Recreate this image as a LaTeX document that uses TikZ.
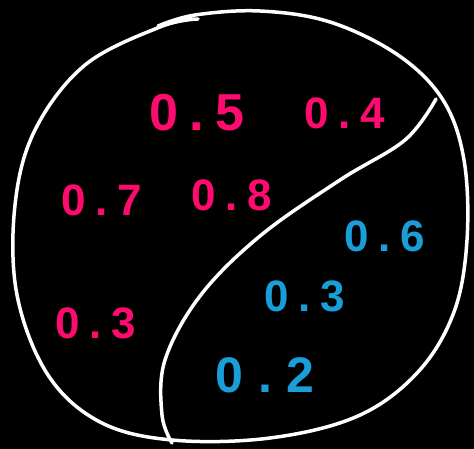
\documentclass[tikz,border=0pt]{standalone}
\usepackage{fontspec}
\setmainfont{Liberation Sans}
\usepackage{xcolor}
\definecolor{inkpink}{HTML}{FF0A6E}
\definecolor{inkblue}{HTML}{1A9ED8}
\newcommand{\hnum}[2]{#1\hspace{0.22em}.\hspace{0.22em}#2}

\begin{document}
\begin{tikzpicture}[
    x=1pt, y=-1pt,
    every node/.style={font=\fontsize{44}{44}\selectfont\bfseries},
    stroke/.style={draw=white, line width=3.5pt, line cap=round, line join=round},
    pinkval/.style={text=inkpink, inner sep=0pt},
    blueval/.style={text=inkblue, inner sep=0pt},
]
% background
\fill[black] (0,0) rectangle (474,449);
\useasboundingbox (0,0) rectangle (474,449);

% outer circle, hand drawn
\draw[stroke] plot[smooth, tension=0.6] coordinates {
    (158,26) (195,15) (260,11) (330,22) (398,55) (443,100) (464,160)
    (467,240) (454,312) (418,372) (358,416) (270,438) (172,440)
    (100,422) (48,375) (17,295) (15,205) (35,130) (85,65) (160,27) (198,19)};

% dividing curve
\draw[stroke] plot[smooth, tension=0.6] coordinates {
    (436,99) (405,140) (340,180) (260,236) (200,296) (165,360)
    (162,415) (172,443)};

% left side values
\node[pinkval, font=\fontsize{52}{52}\selectfont\bfseries] (n05) at (197,113) {\hnum{0}{5}};
\node[pinkval] (n04) at (345,113) {\hnum{0}{4}};
\node[pinkval] (n07) at (102,200) {\hnum{0}{7}};
\node[pinkval] (n08) at (232,195) {\hnum{0}{8}};
\node[pinkval] (n03a) at (96,323) {\hnum{0}{3}};

% right side values
\node[blueval] (n06) at (385,236) {\hnum{0}{6}};
\node[blueval] (n03b) at (305,296) {\hnum{0}{3}};
\node[blueval, font=\fontsize{50}{50}\selectfont\bfseries] (n02) at (265,375) {0\hspace{0.3em}.\hspace{0.3em}2};
\end{tikzpicture}
\end{document}
